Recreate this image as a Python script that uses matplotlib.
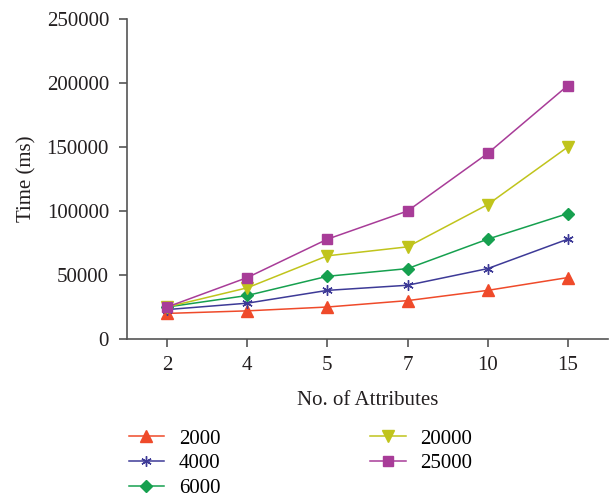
import numpy as np
import matplotlib
matplotlib.use('Agg')
import matplotlib.pyplot as plt

plt.rcParams['font.family'] = ['Liberation Serif', 'DejaVu Serif']

# runtime for each dataset size vs. number of attributes
attributes = ['2', '4', '5', '7', '10', '15']
t_2000 = [20000, 22000, 25000, 30000, 38000, 48000]
t_4000 = [23000, 28000, 38000, 42000, 55000, 78000]
t_6000 = [25000, 34000, 49000, 55000, 78000, 98000]
t_20000 = [25000, 40000, 65000, 72000, 105000, 150000]
t_25000 = [25000, 48000, 78000, 100000, 145000, 198000]

series = [
    ('2000', t_2000, '#ef4a2a', '^', 8),
    ('4000', t_4000, '#3d3a97', (6, 2, 0), 7.5),
    ('6000', t_6000, '#16a04f', 'D', 6.5),
    ('20000', t_20000, '#c0c41c', 'v', 8),
    ('25000', t_25000, '#a83c98', 's', 7.5),
]

fig = plt.figure(figsize=(6.14, 4.99), dpi=100)
ax = fig.add_axes([0.207, 0.3206, 0.783, 0.6414])

x = np.arange(len(attributes))
for name, vals, col, mk, ms in series:
    ax.plot(x, vals, color=col, marker=mk, markersize=ms, linewidth=1.1,
            markeredgecolor=col, markeredgewidth=1.0, label=name)

ax.set_xlim(-0.5, 5.5)
ax.set_ylim(0, 250000)
ax.set_xticks(x)
ax.set_xticklabels(attributes)
ax.set_yticks(np.arange(0, 250001, 50000))

for s in ['top', 'right']:
    ax.spines[s].set_visible(False)
for s in ['left', 'bottom']:
    ax.spines[s].set_color('#555555')
    ax.spines[s].set_linewidth(1.2)
ax.tick_params(colors='#555555', labelcolor='#231f20', labelsize=15,
               length=6, width=1.2)
ax.tick_params(axis='y', pad=7)
ax.tick_params(axis='x', pad=6)

ax.set_xlabel('No. of Attributes', fontsize=15, color='#231f20', labelpad=12)
ax.set_ylabel('Time (ms)', fontsize=15, color='#231f20', labelpad=7)

fig.legend(loc='upper left', bbox_to_anchor=(0.179, 0.178), ncol=2,
           frameon=False, fontsize=15, handlelength=1.7,
           columnspacing=7.2, labelspacing=0.25, handletextpad=0.7,
           borderpad=0.4)

fig.savefig('out.png', dpi=100)
